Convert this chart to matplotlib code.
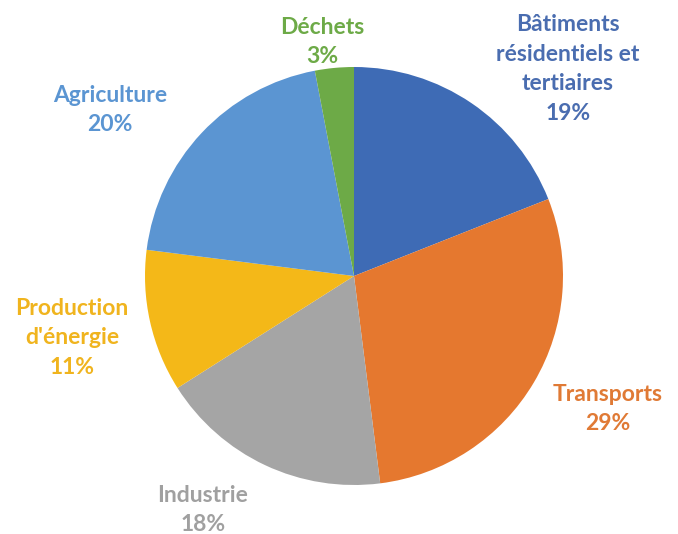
import matplotlib.pyplot as plt

# Répartition des émissions par secteur (%)
sectors = ['Bâtiments\nrésidentiels et\ntertiaires', 'Transports', 'Industrie',
           "Production\nd'énergie", 'Agriculture', 'Déchets']
shares = [19, 29, 18, 11, 20, 3]
colors = ['#3E6BB5', '#E5782F', '#A5A5A5', '#F4B818', '#5B95D2', '#6DAA47']
text_colors = ['#4A6DB0', '#E07A35', '#A0A0A0', '#F0B41E', '#5B95D2', '#6DAA47']

# label centres in pixels (x, y from top)
label_pos = [(568, 69), (608, 409), (203, 510), (72, 338), (110, 110), (322, 42)]

W, H = 678, 534
fig = plt.figure(figsize=(W / 100, H / 100), dpi=100)

# circle: centre (354, 276), radius 209 px
cx, cy, r = 354, 276, 209
ax = fig.add_axes([(cx - r) / W, (H - cy - r) / H, 2 * r / W, 2 * r / H])
ax.pie(shares, colors=colors, startangle=90, counterclock=False,
       wedgeprops=dict(linewidth=0))
ax.set_aspect('auto')
ax.set_xlim(-1, 1)
ax.set_ylim(-1, 1)
ax.axis('off')

for name, v, c, (x, y) in zip(sectors, shares, text_colors, label_pos):
    fig.text(x / W, 1 - y / H, f'{name}\n{v}%', color=c, ha='center', va='center',
             fontsize=16.5, fontweight='bold', family='Lato', linespacing=1.5)

fig.savefig('out.png', dpi=100)
